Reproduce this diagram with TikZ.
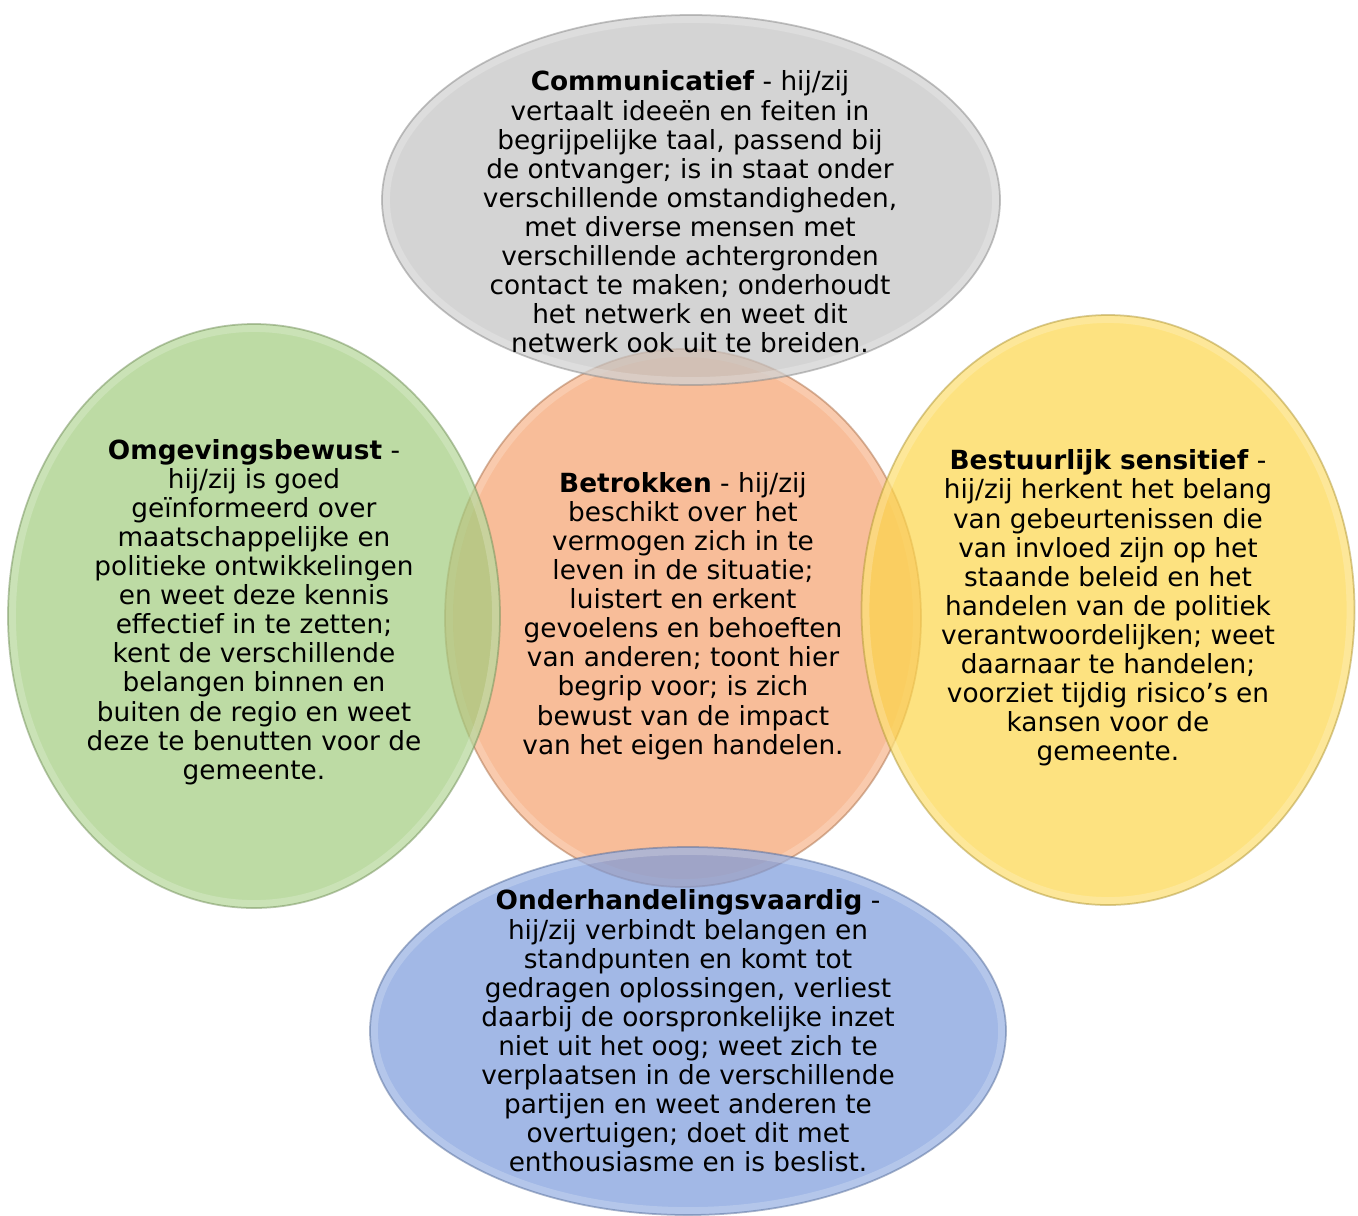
\documentclass[tikz,border=0pt]{standalone}
\usepackage{fontspec}
\setmainfont{DejaVu Sans}
\usetikzlibrary{shapes.geometric,calc}

\definecolor{commGray}{RGB}{194,194,194}
\definecolor{envGreen}{RGB}{161,204,126}
\definecolor{involvedOrange}{RGB}{245,161,109}
\definecolor{adminYellow}{RGB}{252,214,74}
\definecolor{negotiateBlue}{RGB}{122,154,219}

\def \pxSize {0.02cm}

\tikzset{
  bubble/.style={ellipse, inner sep=0pt, fill=#1, fill opacity=0.7,
    draw=#1!70!black, draw opacity=0.5, line width=1pt,
    path picture={\draw[white, line width=9pt, opacity=0.2]
      let \p1=(path picture bounding box.north east), \p2=(path picture bounding box.center)
      in (\p2) ellipse [x radius=\x1-\x2, y radius=\y1-\y2];}},
  bubbleText/.style={align=center, font=\fontsize{15pt}{16.55pt}\selectfont, text=black}
}

\begin{document}
\begin{tikzpicture}[x=\pxSize, y=-\pxSize]
  \useasboundingbox (0,0) rectangle (1358,1215);

  \node[bubble=involvedOrange, minimum width=476*\pxSize, minimum height=538*\pxSize] (involved) at (683,618) {};
  \node[bubble=commGray, minimum width=618*\pxSize, minimum height=370*\pxSize] (comm) at (691,200) {};
  \node[bubble=envGreen, minimum width=492*\pxSize, minimum height=584*\pxSize] (env) at (254,616) {};
  \node[bubble=adminYellow, minimum width=493*\pxSize, minimum height=590*\pxSize] (admin) at (1108,610) {};
  \node[bubble=negotiateBlue, minimum width=636*\pxSize, minimum height=368*\pxSize] (negotiate) at (688,1031) {};

  \node[bubbleText] (commText) at (690,212) {\textbf{Communicatief} - hij/zij\\
    vertaalt ideeën en feiten in\\
    begrijpelijke taal, passend bij\\
    de ontvanger; is in staat onder\\
    verschillende omstandigheden,\\
    met diverse mensen met\\
    verschillende achtergronden\\
    contact te maken; onderhoudt\\
    het netwerk en weet dit\\
    netwerk ook uit te breiden.};
  \node[bubbleText] (envText) at (254,612) {\textbf{Omgevingsbewust} -\\
    hij/zij is goed\\
    geïnformeerd over\\
    maatschappelijke en\\
    politieke ontwikkelingen\\
    en weet deze kennis\\
    effectief in te zetten;\\
    kent de verschillende\\
    belangen binnen en\\
    buiten de regio en weet\\
    deze te benutten voor de\\
    gemeente.};
  \node[bubbleText] (involvedText) at (683,616) {\textbf{Betrokken} - hij/zij\\
    beschikt over het\\
    vermogen zich in te\\
    leven in de situatie;\\
    luistert en erkent\\
    gevoelens en behoeften\\
    van anderen; toont hier\\
    begrip voor; is zich\\
    bewust van de impact\\
    van het eigen handelen.};
  \node[bubbleText] (adminText) at (1108,608) {\textbf{Bestuurlijk sensitief} -\\
    hij/zij herkent het belang\\
    van gebeurtenissen die\\
    van invloed zijn op het\\
    staande beleid en het\\
    handelen van de politiek\\
    verantwoordelijken; weet\\
    daarnaar te handelen;\\
    voorziet tijdig risico’s en\\
    kansen voor de\\
    gemeente.};
  \node[bubbleText] (negotiateText) at (688,1031) {\textbf{Onderhandelingsvaardig} -\\
    hij/zij verbindt belangen en\\
    standpunten en komt tot\\
    gedragen oplossingen, verliest\\
    daarbij de oorspronkelijke inzet\\
    niet uit het oog; weet zich te\\
    verplaatsen in de verschillende\\
    partijen en weet anderen te\\
    overtuigen; doet dit met\\
    enthousiasme en is beslist.};
\end{tikzpicture}
\end{document}
